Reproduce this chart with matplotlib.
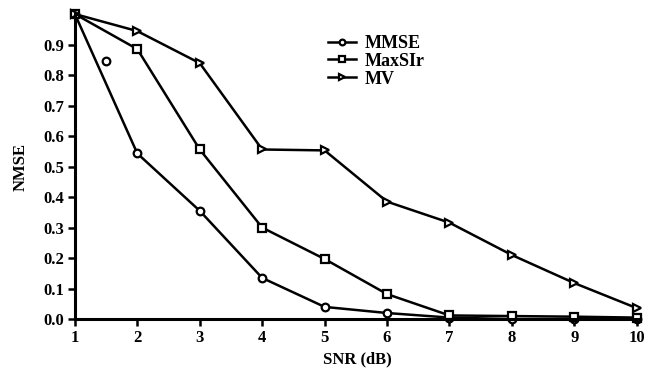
import matplotlib
matplotlib.use('Agg')
import matplotlib.pyplot as plt

# SNR sweep and NMSE for each method
snr = [1, 2, 3, 4, 5, 6, 7, 8, 9, 10]
mmse = [1.0, 0.543, 0.355, 0.135, 0.04, 0.02, 0.005, 0.0, 0.0, 0.0]
maxslr = [1.0, 0.885, 0.556, 0.30, 0.197, 0.082, 0.012, 0.01, 0.008, 0.005]
mv = [1.0, 0.944, 0.839, 0.556, 0.553, 0.385, 0.316, 0.21, 0.118, 0.036]

# extra MMSE point at 1.5 dB (marker only)
mmse_extra_x = [1.5]
mmse_extra_y = [0.845]

yticks = [0.0, 0.1, 0.2, 0.3, 0.4, 0.5, 0.6, 0.7, 0.8, 0.9]

plt.rcParams['font.family'] = ['Liberation Serif', 'DejaVu Serif']
plt.rcParams['font.weight'] = 'bold'
plt.rcParams['axes.labelweight'] = 'bold'

fig = plt.figure(figsize=(6.51, 3.79), dpi=100)
ax = fig.add_axes([0.115, 0.158, 0.868, 0.805])

kw = dict(color='black', lw=1.8, markersize=5.5, markerfacecolor='white',
          markeredgewidth=1.6, clip_on=False)
ax.plot(snr, mmse, marker='o', label='MMSE', **kw)
ax.plot(snr, maxslr, marker='s', label='MaxSIr', **kw)
ax.plot(snr, mv, marker='>', label='MV', **kw)
ax.plot(mmse_extra_x, mmse_extra_y, ls='none', marker='o', color='black',
        markersize=5.5, markerfacecolor='white', markeredgewidth=1.6)

ax.set_xlim(1, 10.05)
ax.set_ylim(0, 1.0)
ax.set_xticks(snr)
ax.set_yticks(yticks)
ax.set_yticklabels(['%.1f' % v for v in yticks])
ax.tick_params(direction='out', length=5, width=1.8, labelsize=12, pad=3)
for s in ['top', 'right']:
    ax.spines[s].set_visible(False)
for s in ['left', 'bottom']:
    ax.spines[s].set_linewidth(2.2)

ax.set_xlabel('SNR (dB)', fontsize=12, labelpad=4)
ax.set_ylabel('NMSE', fontsize=12, labelpad=10)

leg = ax.legend(loc='upper left', bbox_to_anchor=(0.42, 0.985), frameon=False,
                fontsize=13, handlelength=1.5, handletextpad=0.5,
                labelspacing=0.05, markerscale=0.75)

fig.savefig('out.png', dpi=100)
